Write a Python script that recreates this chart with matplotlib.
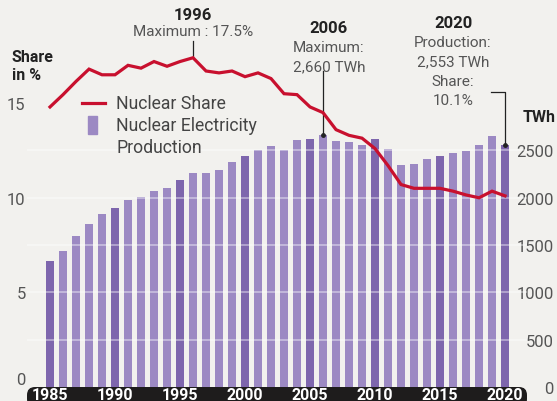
import numpy as np
import matplotlib
matplotlib.use('Agg')
import matplotlib.pyplot as plt
from matplotlib.patches import FancyBboxPatch, Rectangle
from matplotlib.lines import Line2D

# -------------------------------------------
# data

years = np.arange(1985, 2021)
production_twh = [1332, 1438, 1596, 1723, 1829, 1892, 1977, 2008, 2072, 2104,
                  2188, 2262, 2262, 2294, 2378, 2442, 2505, 2548, 2505, 2611,
                  2622, 2660, 2600, 2590, 2558, 2622, 2516, 2347, 2357, 2410,
                  2442, 2474, 2495, 2558, 2653, 2553]
share_pct = [14.8, 15.45, 16.15, 16.8, 16.5, 16.5, 17.0, 16.85, 17.2, 16.95,
             17.2, 17.4, 16.7, 16.6, 16.7, 16.4, 16.6, 16.3, 15.5, 15.45,
             14.8, 14.5, 13.6, 13.3, 13.15, 12.6, 11.7, 10.7, 10.5, 10.5,
             10.5, 10.35, 10.15, 10.0, 10.35, 10.1]
year_ticks = [1985, 1990, 1995, 2000, 2005, 2010, 2015, 2020]
twh_ticks = [0, 500, 1000, 1500, 2000, 2500]
share_ticks = [0, 5, 10, 15]

# -------------------------------------------

W, H = 557, 402
BG = '#f2f1ee'
RED = '#c8102e'
DARK = '#7e66ad'
LIGHT = '#9c89c3'
GREY = '#555555'
plt.rcParams['font.family'] = ['Roboto', 'DejaVu Sans']

def px(x, y):
    # pixel position (from top-left) -> figure fraction
    return x / W, 1 - y / H

fig = plt.figure(figsize=(W / 100, H / 100), dpi=100, facecolor=BG)
ax = fig.add_axes([27 / W, 14 / H, 500 / W, 388 / H])
ax.set_facecolor('none')
# share on a twin axis, 1 % = 200 TWh
ax2 = ax.twinx()

colors = [DARK if y % 5 == 0 else LIGHT for y in years]
ax.bar(years, production_twh, width=0.62, color=colors, zorder=1)
for t in twh_ticks[1:]:
    ax.axhline(t, color='white', lw=1.1, alpha=0.5, zorder=2)

ax.set_xlim(1983.23, 2021.69)
ax.set_ylim(0, 4101)
for s in list(ax.spines.values()) + list(ax2.spines.values()):
    s.set_visible(False)
ax.yaxis.tick_right()
ax.set_yticks(twh_ticks)
ax.tick_params(axis='y', length=0, pad=19.4, labelsize=12, labelcolor=GREY)
for lbl in ax.get_yticklabels():
    lbl.set_horizontalalignment('right')
ax.set_xticks(year_ticks)
ax.tick_params(axis='x', length=0, pad=0.3, labelsize=11.5, labelcolor='white')
for lbl in ax.get_xticklabels():
    lbl.set_fontweight('bold')

ax2.set_ylim(0, 4101 / 200)
ax2.plot(years, share_pct, color=RED, lw=2.3, solid_joinstyle='miter', zorder=3)
ax2.yaxis.tick_left()
ax2.set_yticks(share_ticks)
ax2.tick_params(axis='y', length=0, pad=1, labelsize=12, labelcolor=GREY)
ax2.get_yticklabels()[0].set_verticalalignment('bottom')

# black band under the years
band = FancyBboxPatch((27, -6), 500, 20, boxstyle='round,pad=0,rounding_size=8',
                      transform=None, facecolor='#1e1c1c', edgecolor='none', zorder=-1)
fig.add_artist(band)

# annotations
ax.text(1996, 3932, '1996', ha='center', va='center', fontsize=12, fontweight='bold', color='#222222')
ax.text(1996, 3763, 'Maximum : 17.5%', ha='center', va='center', fontsize=11, color=GREY)
ax.plot([1996, 1996], [3658, share_pct[11] * 200], color='#222222', lw=0.9, zorder=2)

ax.text(2006.45, 3795, '2006', ha='center', va='center', fontsize=12, fontweight='bold', color='#222222')
ax.text(2006.45, 3594, 'Maximum:', ha='center', va='center', fontsize=11, color=GREY)
ax.text(2006.45, 3393, '2,660 TWh', ha='center', va='center', fontsize=11, color=GREY)
ax.plot([2006, 2006], [3340, production_twh[21]], color='#222222', lw=0.9, zorder=2)
ax.plot(2006, production_twh[21], 'o', color='#222222', ms=2.5, zorder=2)

ax.text(2016.0, 3848, '2020', ha='center', va='center', fontsize=12, fontweight='bold', color='#222222')
for txt, yy in [('Production:', 3647), ('2,553 TWh', 3446), ('Share:', 3235), ('10.1%', 3034)]:
    ax.text(2016.0, yy, txt, ha='center', va='center', fontsize=11, color=GREY)
ax.plot([2018.95, 2020, 2020], [3118, 3118, production_twh[-1]], color='#222222', lw=0.9,
        zorder=2, clip_on=False)
ax.plot(2020, production_twh[-1], 'o', color='#222222', ms=2.5, zorder=2)

# axis titles
fig.text(*px(12, 66), 'Share\nin %', ha='left', va='center', fontsize=11.5,
         fontweight='bold', color='#222222', linespacing=1.25)
fig.text(*px(539, 118), 'TWh', ha='center', va='center', fontsize=11.5,
         fontweight='bold', color='#222222')

# legend
fig.add_artist(Line2D([82 / W, 105 / W], [1 - 104 / H, 1 - 104 / H], color=RED, lw=2.3,
                      transform=fig.transFigure))
fig.add_artist(Rectangle(px(88, 135), 9 / W, 18 / H, color=LIGHT, transform=fig.transFigure))
fig.text(*px(116, 104), 'Nuclear Share', ha='left', va='center', fontsize=12.7, color='#444444')
fig.text(*px(116, 137), 'Nuclear Electricity\nProduction', ha='left', va='center',
         fontsize=12.7, color='#444444', linespacing=1.25)

fig.savefig('out.png', dpi=100, facecolor=BG)
